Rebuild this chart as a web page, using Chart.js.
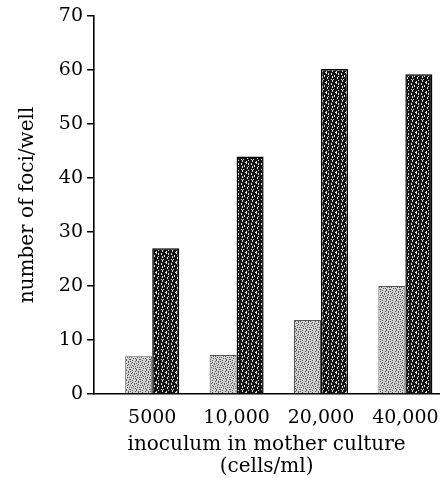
<!DOCTYPE html>
<html>
<head>
<meta charset="utf-8">
<script src="https://cdn.jsdelivr.net/npm/chart.js@4/dist/chart.umd.min.js"></script>
<style>
  html, body { margin: 0; padding: 0; background: #ffffff; }
  #wrap { width: 444px; height: 478px; position: relative; }
</style>
</head>
<body>
<div id="wrap"><canvas id="c"></canvas></div>
<script>
// ---- data ----
const categories = ["5000", "10,000", "20,000", "40,000"];
const lowSeries  = [7, 7.2, 13.7, 20];
const highSeries = [27, 44, 60.2, 59.2];
const yTicks = [0, 10, 20, 30, 40, 50, 60, 70];
const xTitle = ["inoculum in mother culture", "(cells/ml)"];
const yTitle = "number of foci/well";

const positions = categories.map((c, i) => i + 1);
const FONT = "'DejaVu Serif', 'Liberation Serif', serif";

// fixed stipple tiles (style only) imitating the printed bar textures
function makePattern(rows, ink, paper) {
  const cv = document.createElement('canvas');
  cv.width = rows[0].length; cv.height = rows.length;
  const g = cv.getContext('2d');
  g.fillStyle = paper; g.fillRect(0, 0, cv.width, cv.height);
  g.fillStyle = ink;
  rows.forEach((r, y) => { for (let x = 0; x < r.length; x++) if (r[x] === '#') g.fillRect(x, y, 1, 1); });
  return g.createPattern(cv, 'repeat');
}
const darkTile = [
  "##.#####.#",
  "##.###.###",
  "#####..###",
  "#.####.#.#",
  "#.######.#",
  "####.#####",
  "##.#.###.#",
  "##.####.##",
  "#######.##",
  "#.#.######"
];
const lightTile = [
  "..#...#...",
  "#....#..#.",
  "..#.....#.",
  ".#..#.#...",
  "....#...#.",
  "#.#....#..",
  "...#.#....",
  ".#.....#.#",
  "...#.#....",
  "#.....#..#"
];
const lowFill = makePattern(lightTile, '#5a5a5a', '#d2d2d2');
const highFill = makePattern(darkTile, '#151515', '#d8d8d8');

new Chart(document.getElementById('c'), {
  type: 'bar',
  data: {
    datasets: [
      {
        label: 'low',
        data: positions.map((p, i) => ({ x: p, y: lowSeries[i] })),
        backgroundColor: lowFill,
        borderColor: '#555555',
        borderWidth: 1,
        categoryPercentage: 0.64,
        barPercentage: 1.0
      },
      {
        label: 'high',
        data: positions.map((p, i) => ({ x: p, y: highSeries[i] })),
        backgroundColor: highFill,
        borderColor: '#000000',
        borderWidth: 1.5,
        categoryPercentage: 0.64,
        barPercentage: 1.0
      }
    ]
  },
  options: {
    responsive: true,
    maintainAspectRatio: false,
    animation: false,
    layout: { padding: { top: 16, right: 4, bottom: 0, left: 0 } },
    plugins: { legend: { display: false }, tooltip: { enabled: false } },
    scales: {
      x: {
        type: 'linear',
        offset: false,
        min: 0.31,
        max: 4.4,
        afterBuildTicks: (scale) => { scale.ticks = positions.map(v => ({ value: v })); },
        afterFit: (scale) => { scale.height = 84; },
        grid: { display: false },
        border: { display: true, color: '#000000', width: 1.6 },
        ticks: {
          color: '#000000',
          font: { family: FONT, size: 19 },
          padding: 5,
          maxRotation: 0,
          autoSkip: false,
          callback: (v) => categories[positions.indexOf(v)] ?? ''
        },
        title: {
          display: true,
          text: xTitle,
          color: '#000000',
          font: { family: FONT, size: 20, lineHeight: 1.1 },
          padding: { top: 0, bottom: 0 }
        }
      },
      y: {
        min: 0,
        max: 70,
        afterBuildTicks: (scale) => { scale.ticks = yTicks.map(v => ({ value: v })); },
        afterFit: (scale) => { scale.width = 94; },
        grid: { drawOnChartArea: false, drawTicks: true, tickLength: 7, color: '#000000', lineWidth: 1.5 },
        border: { display: true, color: '#000000', width: 1.6 },
        ticks: {
          color: '#000000',
          font: { family: FONT, size: 19 },
          padding: 4
        },
        title: {
          display: true,
          text: yTitle,
          color: '#000000',
          font: { family: FONT, size: 20 },
          padding: { top: 16, bottom: 0 }
        }
      }
    }
  }
});
</script>
</body>
</html>
